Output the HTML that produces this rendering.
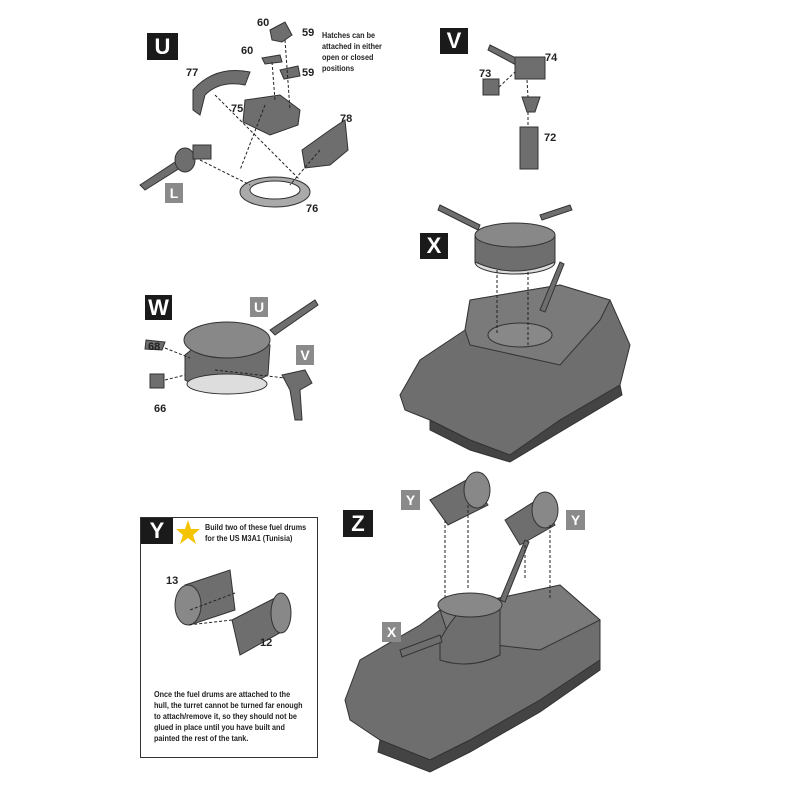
<!DOCTYPE html>
<html><head><meta charset="utf-8"><style>
body{margin:0;background:#fff;width:800px;height:800px;overflow:hidden;position:relative;font-family:"Liberation Sans",sans-serif}
.b{position:absolute;background:#1a1a1a;color:#fff;font-weight:bold;font-size:22px;text-align:center;font-family:"Liberation Sans",sans-serif}
.g{position:absolute;background:#8a8a8a;color:#fff;font-weight:bold;font-size:14px;text-align:center}
.n{position:absolute;font-size:11px;font-weight:bold;color:#222}
.t{position:absolute;font-size:8.5px;font-weight:bold;color:#222;line-height:11px;white-space:nowrap;transform-origin:0 0}
</style></head><body>
<svg width="800" height="800" style="position:absolute;left:0;top:0">
<g fill="#6e6e6e" stroke="#333" stroke-width="1">
<path d="M193 90 Q215 65 250 72 L245 85 Q220 80 205 95 L200 115 L193 110Z"/>
<path d="M245 100 L280 95 L300 110 L298 125 L270 135 L243 122Z"/>
<path d="M302 150 L330 130 L345 120 L348 150 L330 165 L305 168Z"/>
<ellipse cx="275" cy="192" rx="35" ry="15" fill="#aaa"/>
<ellipse cx="275" cy="190" rx="25" ry="9" fill="#fff"/>
<path d="M140 185 L175 162 L180 168 L145 190Z"/>
<ellipse cx="185" cy="160" rx="10" ry="12"/>
<rect x="193" y="145" width="18" height="14"/>
<path d="M270 30 L285 22 L292 35 L282 42 L272 40Z"/>
<path d="M262 58 L280 55 L282 62 L265 64Z"/>
<path d="M280 70 L298 66 L300 76 L284 79Z"/>
<path d="M490 45 L520 60 L518 66 L488 50Z"/>
<rect x="515" y="57" width="30" height="22"/>
<rect x="483" y="79" width="16" height="16"/>
<path d="M522 97 L540 97 L535 112 L527 112Z"/>
<rect x="520" y="127" width="18" height="42"/>
<path d="M440 205 L480 225 L478 230 L438 210Z"/>
<path d="M540 215 L570 205 L572 210 L542 220Z"/>
<ellipse cx="515" cy="262" rx="40" ry="12" fill="#ddd"/>
<path d="M475 235 Q515 215 555 235 L555 262 Q515 280 475 262Z"/>
<ellipse cx="515" cy="235" rx="40" ry="12" fill="#888"/>
<path d="M400 395 L420 360 L465 330 L470 300 L560 285 L610 300 L630 345 L620 385 L560 420 L510 455 L470 440 L430 420 L405 410Z"/>
<path d="M465 330 L470 300 L560 285 L610 300 L600 320 L560 365 L470 345Z" fill="#7a7a7a"/>
<ellipse cx="520" cy="335" rx="32" ry="12" fill="#888"/>
<path d="M430 420 L470 440 L510 455 L560 420 L620 385 L622 395 L560 432 L510 462 L470 450 L430 430Z" fill="#444"/>
<path d="M540 310 L560 262 L564 264 L545 312Z"/>
<path d="M185 355 Q225 320 270 345 L268 375 Q225 400 185 380Z"/>
<ellipse cx="227" cy="340" rx="43" ry="18" fill="#888"/>
<path d="M270 330 L315 300 L318 305 L275 335Z"/>
<ellipse cx="227" cy="384" rx="40" ry="10" fill="#ddd"/>
<path d="M146 340 L165 342 L162 350 L145 349Z"/>
<rect x="150" y="374" width="14" height="14"/>
<path d="M282 375 L305 370 L312 383 L300 390 L302 420 L295 420 L290 390Z"/>
<path d="M185 585 L230 570 L235 610 L190 625Z"/>
<ellipse cx="188" cy="605" rx="13" ry="20" fill="#888"/>
<path d="M232 620 L275 598 L285 630 L240 655Z"/>
<ellipse cx="281" cy="613" rx="10" ry="20" fill="#888"/>
<path d="M430 500 L470 478 L488 505 L448 525Z"/>
<ellipse cx="477" cy="490" rx="13" ry="18" fill="#888"/>
<path d="M505 520 L540 498 L555 525 L520 545Z"/>
<ellipse cx="545" cy="510" rx="13" ry="18" fill="#888"/>
<path d="M345 700 L360 660 L420 625 L440 610 L490 600 L560 585 L600 620 L600 660 L540 700 L470 740 L430 760 L380 740 L350 720Z"/>
<path d="M440 610 L490 600 L560 585 L600 620 L540 650 L450 640Z" fill="#7a7a7a"/>
<path d="M440 640 Q470 585 500 600 L500 655 Q470 670 440 660Z"/>
<ellipse cx="470" cy="605" rx="32" ry="12" fill="#888"/>
<path d="M400 650 L440 635 L442 642 L402 657Z"/>
<path d="M380 740 L430 760 L470 740 L540 700 L600 660 L600 670 L540 712 L470 752 L430 772 L378 752Z" fill="#444"/>
<path d="M500 600 L525 540 L529 542 L505 602Z"/>
</g>
<g stroke="#222" stroke-width="1" stroke-dasharray="3,2" fill="none">
<path d="M285 40 L290 110"/><path d="M272 62 L275 100"/>
<path d="M215 95 L300 180"/><path d="M320 150 L290 185"/><path d="M200 160 L250 185"/><path d="M265 105 L240 170"/>
<path d="M527 80 L528 97"/><path d="M528 112 L528 127"/><path d="M499 87 L515 72"/>
<path d="M497 270 L497 335"/><path d="M528 272 L528 345"/>
<path d="M165 348 L190 358"/><path d="M165 380 L185 375"/><path d="M215 370 L285 378"/>
<path d="M235 593 L190 610"/><path d="M232 620 L188 625"/>
<path d="M445 520 L445 600"/><path d="M468 505 L468 590"/><path d="M525 545 L525 580"/><path d="M550 525 L550 600"/>
</g>
<rect x="140.5" y="517.5" width="177" height="240" fill="none" stroke="#333"/>
<polygon points="188,520 191,529 200,529 193,535 196,544 188,538 180,544 183,535 176,529 185,529" fill="#f5c400"/>
</svg>
<div class="b" style="left:147px;top:33px;width:31px;height:27px;line-height:27px">U</div>
<div class="b" style="left:440px;top:28px;width:28px;height:26px;line-height:26px">V</div>
<div class="b" style="left:145px;top:295px;width:27px;height:25px;line-height:25px">W</div>
<div class="b" style="left:420px;top:233px;width:28px;height:26px;line-height:26px">X</div>
<div class="b" style="left:141px;top:518px;width:32px;height:26px;line-height:26px">Y</div>
<div class="b" style="left:343px;top:510px;width:30px;height:27px;line-height:27px">Z</div>
<div class="g" style="left:165px;top:183px;width:18px;height:20px;line-height:20px">L</div>
<div class="g" style="left:250px;top:297px;width:18px;height:20px;line-height:20px">U</div>
<div class="g" style="left:296px;top:345px;width:18px;height:20px;line-height:20px">V</div>
<div class="g" style="left:401px;top:490px;width:19px;height:20px;line-height:20px">Y</div>
<div class="g" style="left:566px;top:510px;width:19px;height:20px;line-height:20px">Y</div>
<div class="g" style="left:382px;top:622px;width:19px;height:20px;line-height:20px">X</div>
<div class="n" style="left:257px;top:17px">60</div><div class="n" style="left:302px;top:27px">59</div>
<div class="n" style="left:241px;top:45px">60</div><div class="n" style="left:302px;top:67px">59</div>
<div class="n" style="left:186px;top:67px">77</div><div class="n" style="left:231px;top:103px">75</div>
<div class="n" style="left:340px;top:113px">78</div><div class="n" style="left:306px;top:203px">76</div>
<div class="n" style="left:545px;top:52px">74</div><div class="n" style="left:479px;top:68px">73</div>
<div class="n" style="left:544px;top:132px">72</div>
<div class="n" style="left:148px;top:341px">68</div><div class="n" style="left:154px;top:403px">66</div>
<div class="n" style="left:166px;top:575px">13</div><div class="n" style="left:260px;top:637px">12</div>
<div class="t" style="left:322px;top:30px;transform:scaleX(0.85)">Hatches can be<br>attached in either<br>open or closed<br>positions</div>
<div class="t" style="left:205px;top:522px;transform:scaleX(0.85)">Build two of these fuel drums<br>for the US M3A1 (Tunisia)</div>
<div class="t" style="left:154px;top:689px;transform:scaleX(0.85)">Once the fuel drums are attached to the<br>hull, the turret cannot be turned far enough<br>to attach/remove it, so they should not be<br>glued in place until you have built and<br>painted the rest of the tank.</div>
</body></html>
